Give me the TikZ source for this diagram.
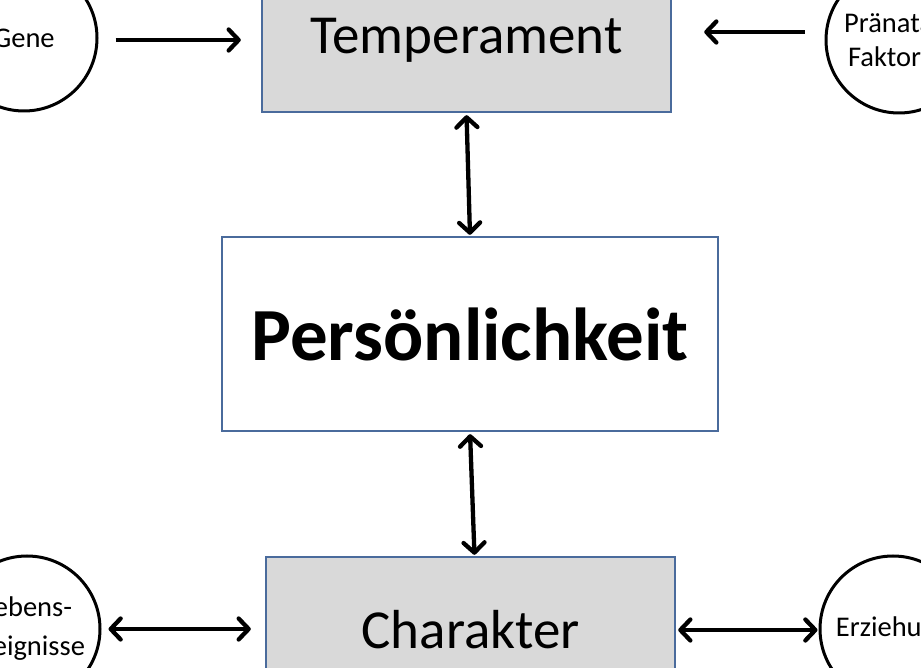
\documentclass[tikz,border=0pt]{standalone}
\usepackage{fontspec}
\setmainfont{Carlito}
\usetikzlibrary{arrows.meta}
\definecolor{rand}{HTML}{4A6B9C}
\definecolor{grau}{HTML}{D9D9D9}
\begin{document}
\begin{tikzpicture}[x=1pt,y=1pt]
    \tikzset{box/.style={draw=rand,line width=2.4pt,inner sep=0pt},
             kreis/.style={circle,draw,line width=3pt,minimum size=146pt,inner sep=0pt,align=center,
                           font=\fontsize{28.5}{34}\selectfont},
             pfeil/.style={line width=4.3pt,>={Straight Barb[length=10pt,width=21pt,round]}}};
    \useasboundingbox (0,0) rectangle (921,667);
    % Kaesten
    \node[box,fill=grau,minimum width=409pt,minimum height=144pt,font=\fontsize{55}{60}\selectfont] (temp) at (466.5,627) {Temperament};
    \node[box,fill=white,minimum width=496pt,minimum height=194pt,font=\fontsize{75}{80}\selectfont\bfseries] (pers) at (470,333) {Persönlichkeit};
    \node[box,fill=grau,minimum width=409pt,minimum height=146pt,font=\fontsize{55}{60}\selectfont] (char) at (470.5,37) {Charakter};
    % Kreise
    \node[kreis] (gene) at (24,629) {Gene};
    \node[kreis] (praen) at (899,627) {Pränatale\\Faktoren};
    \node[kreis,font=\fontsize{28.5}{39}\selectfont] (leben) at (27,38) {Lebens-\\ereignisse};
    \node[kreis] (erz) at (893,38) {Erziehung};
    % Pfeile
    \draw[pfeil,->,shorten <=17pt,shorten >=20pt] (gene.east |- temp.west) -- (temp.west);
    \draw[pfeil,->,shorten <=20pt,shorten >=32pt] ([yshift=8pt]praen.west) -- ([yshift=8pt]praen.west -| temp.east);
    \draw[pfeil,<->,shorten <=2pt,shorten >=1pt] (temp.south) -- (pers.north);
    \draw[pfeil,<->,shorten <=2pt,shorten >=1pt] (pers.south) -- ([xshift=4pt]char.north);
    \draw[pfeil,<->,shorten <=7pt,shorten >=14pt] (leben.east) -- (leben.east -| char.west);
    \draw[pfeil,<->,shorten <=2pt,shorten >=1pt] (char.east) -- (char.east -| erz.west);
\end{tikzpicture}
\end{document}
